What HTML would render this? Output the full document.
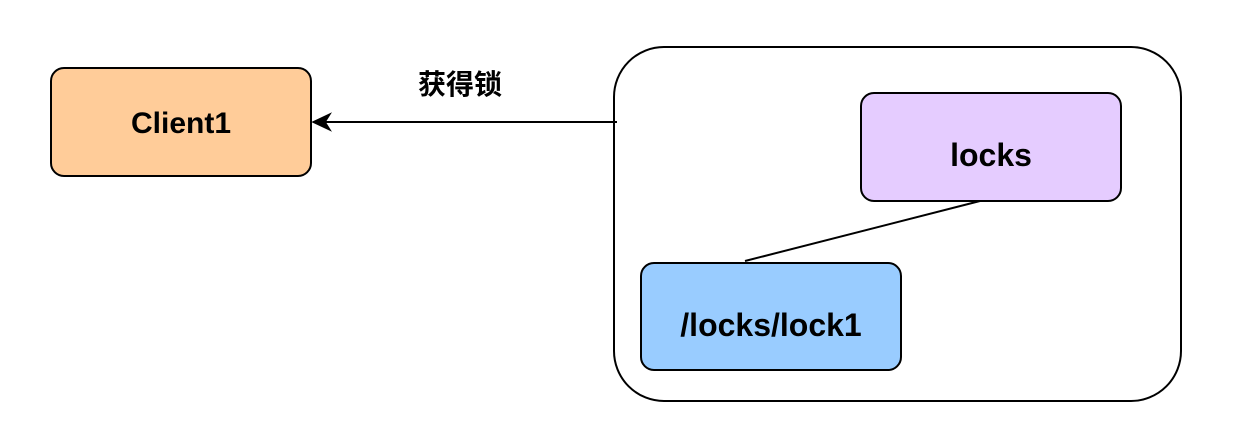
<!DOCTYPE html>
<html><head><meta charset="utf-8"><style>
body{margin:0;background:#fff;}
svg{display:block;}
text{font-family:"Liberation Sans","Noto Sans CJK SC",sans-serif;font-weight:bold;}
</style></head><body>
<svg width="1245" height="445" viewBox="0 0 1245 445">
<rect x="51" y="68" width="260" height="108" rx="13" fill="#FFCC99" stroke="#000" stroke-width="2"/>
<text x="181" y="133" font-size="30" text-anchor="middle">Client1</text>
<rect x="614" y="47" width="567" height="354" rx="50" fill="#fff" stroke="#000" stroke-width="2"/>
<rect x="861" y="93" width="260" height="108" rx="13" fill="#E5CCFF" stroke="#000" stroke-width="2"/>
<text x="991" y="166" font-size="32" text-anchor="middle">locks</text>
<rect x="641" y="263" width="260" height="107" rx="13" fill="#99CCFF" stroke="#000" stroke-width="2"/>
<text x="771" y="336" font-size="32" text-anchor="middle">/locks/lock1</text>
<line x1="980" y1="201" x2="745" y2="261" stroke="#000" stroke-width="2"/>
<line x1="617" y1="122" x2="325" y2="122" stroke="#000" stroke-width="2"/>
<polygon points="313,122 330,114 325,122 330,130" fill="#000" stroke="#000" stroke-width="1.5"/>
<text x="460" y="94" font-size="28" text-anchor="middle" font-weight="normal">获得锁</text>
</svg>
</body></html>
